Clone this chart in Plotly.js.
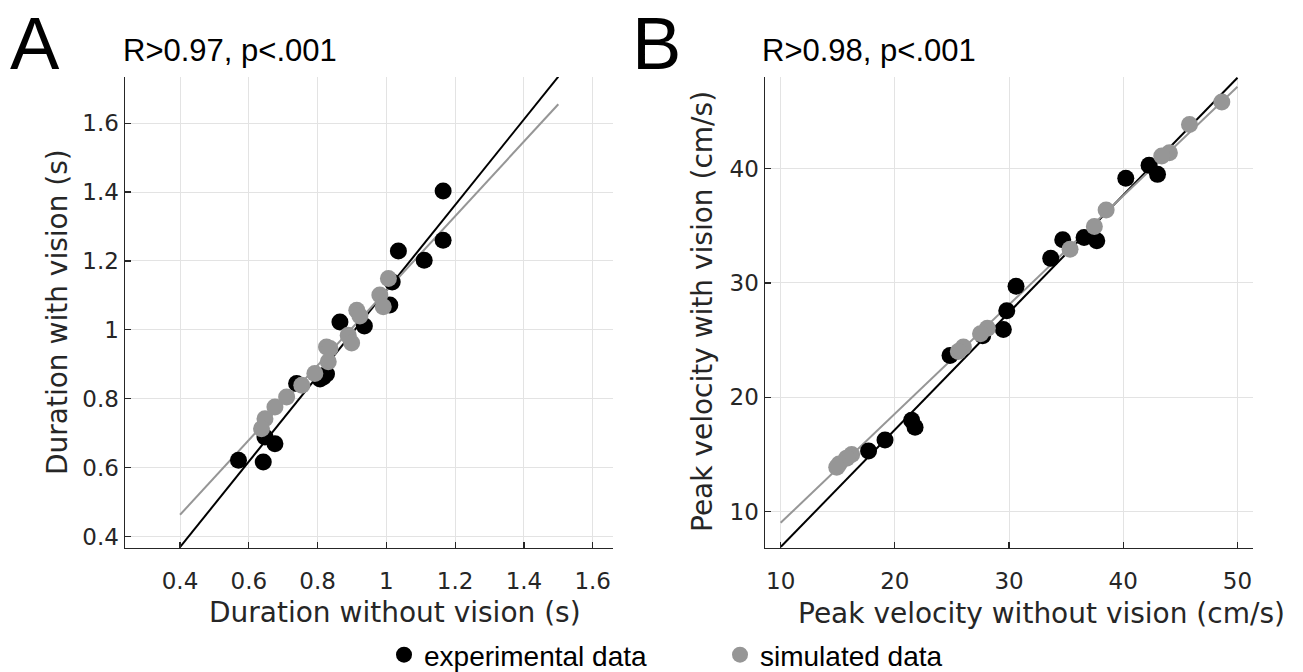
<!DOCTYPE html>
<html>
<head>
<meta charset="utf-8">
<script src="https://cdn.plot.ly/plotly-3.0.1.min.js"></script>
<style>
  html, body { margin: 0; padding: 0; background: #ffffff; }
  #chart { width: 1303px; height: 672px; }
</style>
</head>
<body>
<div id="chart"></div>
<script>
// ---------- Data ----------
// Panel A: movement duration (s)
const durNoVisExp = [1.165, 1.165, 1.035, 1.110, 1.017, 1.010, 0.865, 0.936, 0.817, 0.826, 0.739, 0.647, 0.676, 0.570, 0.642, 0.807];
const durVisExp   = [1.403, 1.260, 1.229, 1.202, 1.139, 1.072, 1.023, 1.011, 0.863, 0.872, 0.844, 0.689, 0.669, 0.621, 0.616, 0.857];
const durNoVisSim = [1.006, 0.981, 0.991, 0.914, 0.923, 0.889, 0.899, 0.826, 0.836, 0.831, 0.792, 0.754, 0.710, 0.676, 0.647, 0.637];
const durVisSim   = [1.149, 1.101, 1.067, 1.057, 1.040, 0.984, 0.962, 0.950, 0.946, 0.907, 0.873, 0.839, 0.805, 0.776, 0.742, 0.713];
// Panel A regression lines (end points)
const durFitX      = [0.4, 1.5];
const durFitExpY   = [0.369, 1.735];
const durFitSimY   = [0.463, 1.655];

// Panel B: peak velocity (cm/s)
const velNoVisExp = [42.26, 43.00, 40.22, 37.68, 36.57, 34.70, 33.65, 30.61, 29.80, 29.50, 27.69, 24.83, 21.77, 21.47, 19.14, 17.70];
const velVisExp   = [40.29, 39.50, 39.16, 33.70, 33.97, 33.78, 32.15, 29.71, 27.56, 25.93, 25.38, 23.66, 17.37, 17.98, 16.26, 15.30];
const velNoVisSim = [48.63, 45.80, 44.04, 43.37, 38.50, 37.47, 35.34, 28.10, 27.50, 26.00, 25.56, 16.22, 15.78, 15.12, 14.91];
const velVisSim   = [45.83, 43.87, 41.40, 41.11, 36.39, 34.93, 32.95, 26.03, 25.56, 24.40, 24.00, 14.99, 14.67, 14.15, 13.87];
// Panel B regression lines (end points)
const velFitX      = [10, 50];
const velFitExpY   = [6.89, 47.95];
const velFitSimY   = [9.01, 47.17];

// Tick values / labels
const durTicks      = [0.4, 0.6, 0.8, 1, 1.2, 1.4, 1.6];
const durTickLabels = ['0.4', '0.6', '0.8', '1', '1.2', '1.4', '1.6'];
const velXTicks      = [10, 20, 30, 40, 50];
const velXTickLabels = ['10', '20', '30', '40', '50'];
const velYTicks      = [10, 20, 30, 40];
const velYTickLabels = ['10', '20', '30', '40'];

// Text
const panelTitles = ['R>0.97, p<.001', 'R>0.98, p<.001'];
const panelLetters = ['A', 'B'];
const seriesNames = ['experimental data', 'simulated data'];
const axisTitles = {
  ax: 'Duration without vision (s)', ay: 'Duration with vision (s)',
  bx: 'Peak velocity without vision (cm/s)', by: 'Peak velocity with vision (cm/s)'
};

// ---------- Styling ----------
const W = 1303, H = 672;
const px = v => v / W;
const py = v => 1 - v / H;
const BLACK = '#000000';
const GRAY = '#969696';
const AXC = '#262626';
const MS = 17;

function lineTrace(x, y, color, xa, ya) {
  return { x: x, y: y, type: 'scatter', mode: 'lines', xaxis: xa, yaxis: ya,
           line: { color: color, width: 2 }, showlegend: false, hoverinfo: 'skip' };
}
function markerTrace(x, y, color, xa, ya, name, show, leg) {
  return { x: x, y: y, type: 'scatter', mode: 'markers', xaxis: xa, yaxis: ya,
           name: name, showlegend: show, legend: leg,
           marker: { color: color, size: MS, line: { width: 0 } } };
}

const traces = [
  lineTrace(durFitX, durFitExpY, BLACK, 'x', 'y'),
  lineTrace(durFitX, durFitSimY, GRAY, 'x', 'y'),
  markerTrace(durNoVisExp, durVisExp, BLACK, 'x', 'y', seriesNames[0], true, 'legend'),
  markerTrace(durNoVisSim, durVisSim, GRAY, 'x', 'y', seriesNames[1], true, 'legend2'),
  lineTrace(velFitX, velFitExpY, BLACK, 'x2', 'y2'),
  lineTrace(velFitX, velFitSimY, GRAY, 'x2', 'y2'),
  markerTrace(velNoVisExp, velVisExp, BLACK, 'x2', 'y2', seriesNames[0], false, 'legend'),
  markerTrace(velNoVisSim, velVisSim, GRAY, 'x2', 'y2', seriesNames[1], false, 'legend2')
];

const tickFont = { family: 'DejaVu Sans', size: 23, color: AXC };
function axis(domain, range, tv, tt, isX, anchor) {
  return {
    domain: domain, range: range, anchor: anchor,
    tickmode: 'array', tickvals: tv, ticktext: tt,
    ticks: 'inside', ticklen: 6, tickwidth: 1.2, tickcolor: AXC,
    showline: true, linecolor: AXC, linewidth: 1.5, mirror: false,
    showgrid: true, gridcolor: '#e3e3e3', gridwidth: 1,
    zeroline: false, tickfont: tickFont, automargin: false,
    ticklabelstandoff: isX ? 12 : 0,
    fixedrange: true
  };
}

const yDom = [py(547.5), py(77)];
const legFont = { family: 'Liberation Sans', size: 28, color: BLACK };
const layout = {
  width: W, height: H,
  margin: { l: 0, r: 0, t: 0, b: 0, pad: 0, autoexpand: false },
  paper_bgcolor: '#ffffff', plot_bgcolor: '#ffffff',
  showlegend: true,
  xaxis:  axis([px(125), px(613)], [0.240, 1.659], durTicks, durTickLabels, true, 'y'),
  yaxis:  axis(yDom, [0.368, 1.734], durTicks, durTickLabels, false, 'x'),
  xaxis2: axis([px(765), px(1253)], [8.63, 51.36], velXTicks, velXTickLabels, true, 'y2'),
  yaxis2: axis(yDom, [6.85, 48.02], velYTicks, velYTickLabels, false, 'x2'),
  legend: {
    orientation: 'h', x: px(384), xanchor: 'left', y: py(655), yanchor: 'middle',
    font: legFont, bgcolor: 'rgba(0,0,0,0)', borderwidth: 0, itemclick: false, itemdoubleclick: false
  },
  legend2: {
    orientation: 'h', x: px(720), xanchor: 'left', y: py(655), yanchor: 'middle',
    font: legFont, bgcolor: 'rgba(0,0,0,0)', borderwidth: 0, itemclick: false, itemdoubleclick: false
  },
  annotations: [
    { text: panelLetters[0], xref: 'paper', yref: 'paper', x: px(8), y: 1, xanchor: 'left', yanchor: 'top',
      showarrow: false, font: { family: 'Liberation Sans', size: 74, color: BLACK } },
    { text: panelLetters[1], xref: 'paper', yref: 'paper', x: px(630), y: 1, xanchor: 'left', yanchor: 'top',
      showarrow: false, font: { family: 'Liberation Sans', size: 74, color: BLACK } },
    { text: panelTitles[0], xref: 'paper', yref: 'paper', x: px(121), y: py(51), xanchor: 'left', yanchor: 'middle',
      showarrow: false, font: { family: 'Liberation Sans', size: 31, color: BLACK } },
    { text: panelTitles[1], xref: 'paper', yref: 'paper', x: px(760), y: py(51), xanchor: 'left', yanchor: 'middle',
      showarrow: false, font: { family: 'Liberation Sans', size: 31, color: BLACK } },
    { text: axisTitles.ax, xref: 'paper', yref: 'paper', x: px(395), y: py(612), xanchor: 'center', yanchor: 'middle',
      showarrow: false, font: { family: 'DejaVu Sans', size: 28, color: AXC } },
    { text: axisTitles.bx, xref: 'paper', yref: 'paper', x: px(1041), y: py(613), xanchor: 'center', yanchor: 'middle',
      showarrow: false, font: { family: 'DejaVu Sans', size: 28, color: AXC } },
    { text: axisTitles.ay, xref: 'paper', yref: 'paper', x: px(57), y: py(312), xanchor: 'center', yanchor: 'middle',
      textangle: -90, showarrow: false, font: { family: 'DejaVu Sans', size: 28, color: AXC } },
    { text: axisTitles.by, xref: 'paper', yref: 'paper', x: px(702), y: py(312), xanchor: 'center', yanchor: 'middle',
      textangle: -90, showarrow: false, font: { family: 'DejaVu Sans', size: 28, color: AXC } }
  ]
};

Plotly.newPlot('chart', traces, layout, { displayModeBar: false, staticPlot: true });
</script>
</body>
</html>
